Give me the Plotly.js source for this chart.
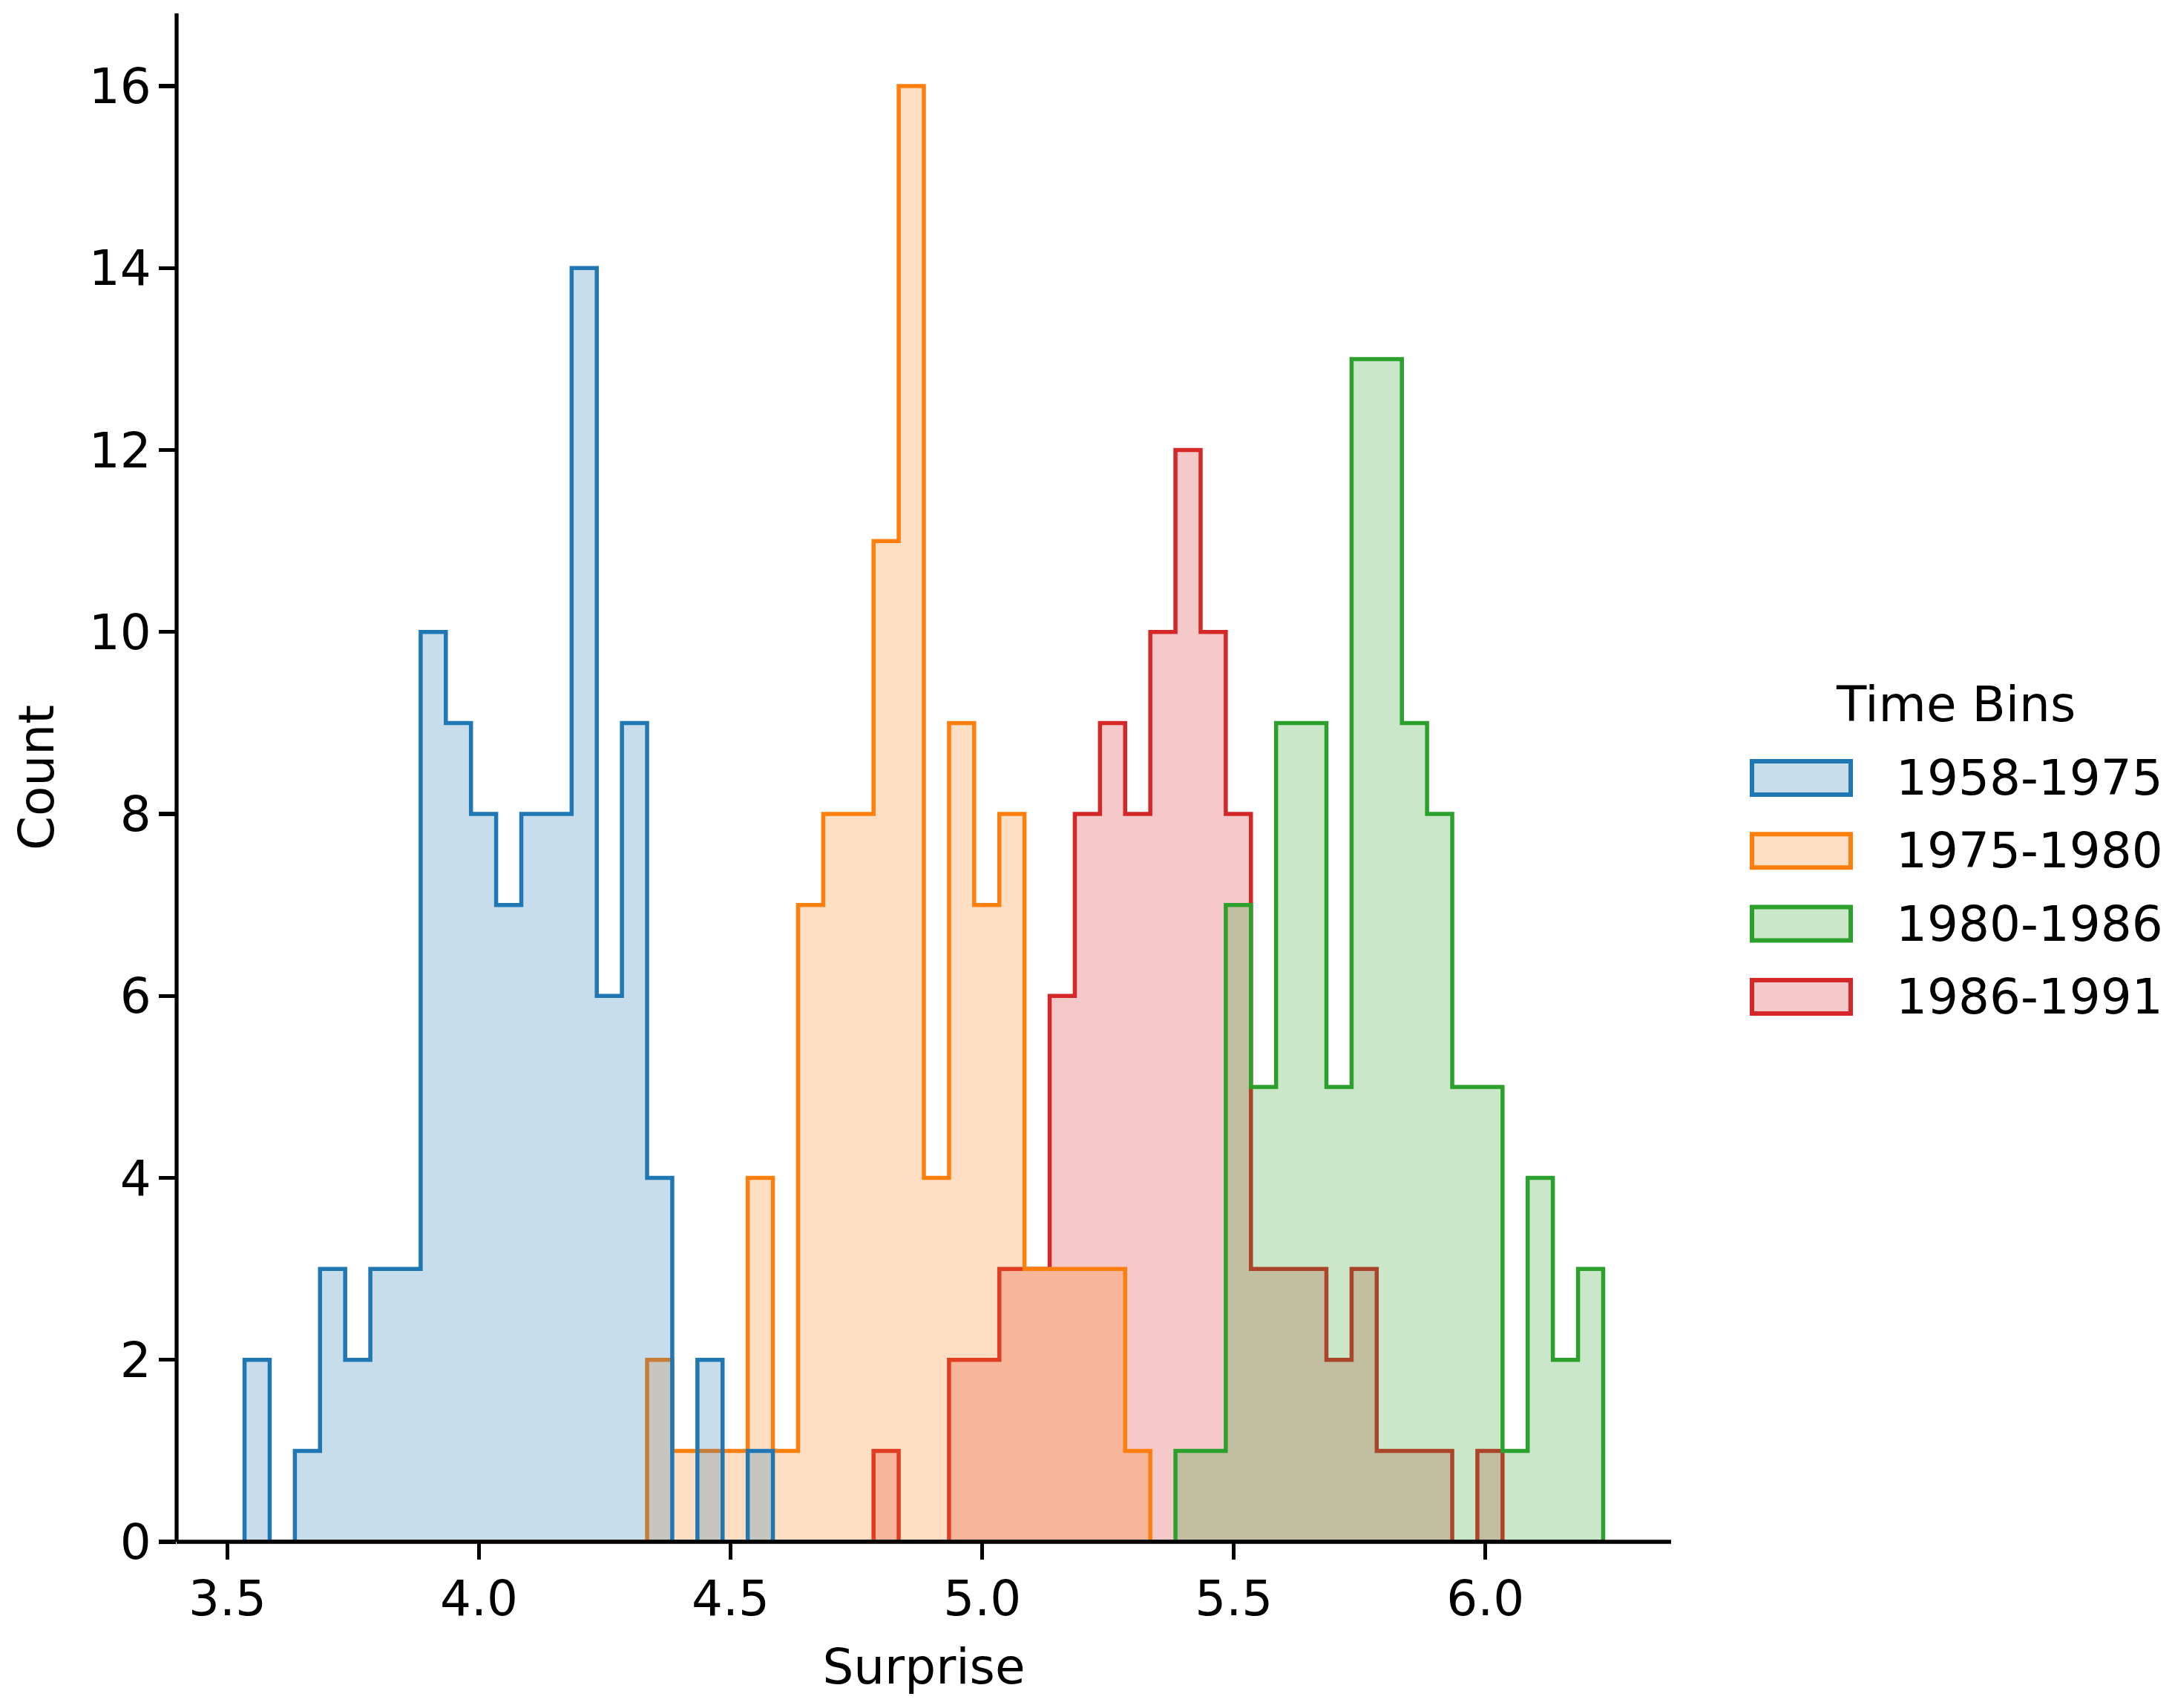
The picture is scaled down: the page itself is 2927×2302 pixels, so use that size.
<!DOCTYPE html>
<html>
<head>
<meta charset="utf-8">
<script src="https://cdn.plot.ly/plotly-3.0.1.min.js"></script>
<style>html,body{margin:0;padding:0;background:#fff;}</style>
</head>
<body>
<div id="chart" style="width:2927px;height:2302px;"></div>
<script>
// ---- data ----
const binStart = 3.534;
const binWidth = 0.05;
const binCount = 54;

const seriesNames = ["1958-1975", "1975-1980", "1980-1986", "1986-1991"];
const seriesColors = ["#1f77b4", "#ff7f0e", "#2ca02c", "#d62728"];
const seriesFills = ["rgba(31,119,180,0.25)", "rgba(255,127,14,0.25)", "rgba(44,160,44,0.25)", "rgba(214,39,40,0.25)"];

// counts per bin (bins 0..53)
const counts1958_1975 = [2,0,1,3,2,3,3,10,9,8,7,8,8,14,6,9,4,0,2,0,1,
  0,0,0,0,0,0,0,0,0,0,0,0,0,0,0,0,0,0,0,0,0,0,0,0,0,0,0,0,0,0,0,0,0];
const counts1975_1980 = [0,0,0,0,0,0,0,0,0,0,0,0,0,0,0,0,
  2,1,1,1,4,1,7,8,8,11,16,4,9,7,8,3,3,3,3,1,
  0,0,0,0,0,0,0,0,0,0,0,0,0,0,0,0,0,0];
const counts1980_1986 = [0,0,0,0,0,0,0,0,0,0,0,0,0,0,0,0,0,0,0,0,0,0,0,0,0,0,0,0,0,0,0,0,0,0,0,0,0,
  1,1,7,5,9,9,5,13,13,9,8,5,5,1,4,2,3];
const counts1986_1991 = [0,0,0,0,0,0,0,0,0,0,0,0,0,0,0,0,0,0,0,0,0,0,0,0,0,
  1,0,0,2,2,3,3,6,8,9,8,10,12,10,8,3,3,3,2,3,1,1,1,0,1,
  0,0,0,0];

const seriesCounts = [counts1958_1975, counts1975_1980, counts1980_1986, counts1986_1991];

const xTickVals = [3.5, 4.0, 4.5, 5.0, 5.5, 6.0];
const xTickText = ["3.5", "4.0", "4.5", "5.0", "5.5", "6.0"];
const yTickVals = [0, 2, 4, 6, 8, 10, 12, 14, 16];
const yTickText = ["0", "2", "4", "6", "8", "10", "12", "14", "16"];

const legendTitle = "Time Bins";
const xTitle = "Surprise";
const yTitle = "Count";

// ---- build ----
const edges = [];
for (let k = 0; k <= binCount; k++) edges.push(+(binStart + k * binWidth).toFixed(4));

function stepTrace(i) {
  const c = seriesCounts[i];
  const x = [edges[0]], y = [0];
  for (let k = 0; k < c.length; k++) { x.push(edges[k]); y.push(c[k]); }
  x.push(edges[c.length]); y.push(c[c.length - 1]);
  x.push(edges[c.length]); y.push(0);
  return {
    type: "scatter", mode: "lines", x: x, y: y, name: seriesNames[i],
    line: {shape: "hv", color: seriesColors[i], width: 5.5},
    fill: "tozeroy", fillcolor: seriesFills[i],
    hoverinfo: "skip", showlegend: false
  };
}
// draw last hue first so the first hue sits on top
const traces = [3, 2, 1, 0].map(stepTrace);

const W = 2927, H = 2302;
const plotL = 238, plotR = 2252, plotT = 18, plotB = 2078;
const pw = plotR - plotL, ph = plotB - plotT;
const px2x = p => (p - plotL) / pw;
const px2y = p => (plotB - p) / ph;

const shapes = [
  {type: "line", xref: "paper", yref: "paper", x0: 0, x1: 1, y0: 0, y1: 0,
   line: {color: "black", width: 5.3}, layer: "above"},
  {type: "line", xref: "paper", yref: "paper", x0: 0, x1: 0, y0: 0, y1: 1,
   line: {color: "black", width: 5.3}, layer: "above"}
];
const annotations = [
  {xref: "paper", yref: "paper", x: px2x(2635), y: px2y(950), text: legendTitle,
   showarrow: false, xanchor: "center", yanchor: "middle",
   font: {family: "DejaVu Sans", size: 66, color: "black"}}
];
const rowTop0 = 1023, rowStep = 98.3;
for (let i = 0; i < seriesNames.length; i++) {
  const top = rowTop0 + i * rowStep;
  shapes.push({type: "rect", xref: "paper", yref: "paper",
    x0: px2x(2361), x1: px2x(2494), y0: px2y(top + 3), y1: px2y(top + 48),
    fillcolor: seriesFills[i], line: {color: seriesColors[i], width: 6}, layer: "above"});
  annotations.push({xref: "paper", yref: "paper", x: px2x(2553), y: px2y(top + 25.5),
    text: seriesNames[i], showarrow: false, xanchor: "left", yanchor: "middle",
    font: {family: "DejaVu Sans", size: 66, color: "black"}});
}

const layout = {
  width: W, height: H,
  margin: {l: plotL, r: W - plotR, t: plotT, b: H - plotB, pad: 0},
  paper_bgcolor: "white", plot_bgcolor: "white",
  showlegend: false,
  font: {family: "DejaVu Sans", size: 66, color: "black"},
  xaxis: {
    range: [3.399, 6.369], tickmode: "array", tickvals: xTickVals, ticktext: xTickText,
    ticks: "outside", ticklen: 23, tickwidth: 5.3, tickcolor: "black", ticklabelstandoff: -4,
    showline: false, showgrid: false, zeroline: false, automargin: false,
    tickfont: {family: "DejaVu Sans", size: 66, color: "black"},
    title: {text: xTitle, standoff: 30, font: {family: "DejaVu Sans", size: 66, color: "black"}}
  },
  yaxis: {
    range: [0, 16.8], tickmode: "array", tickvals: yTickVals, ticktext: yTickText,
    ticks: "outside", ticklen: 23, tickwidth: 5.3, tickcolor: "black", ticklabelstandoff: -3,
    showline: false, showgrid: false, zeroline: false, automargin: false,
    tickfont: {family: "DejaVu Sans", size: 66, color: "black"},
    title: {text: yTitle, standoff: 25, font: {family: "DejaVu Sans", size: 66, color: "black"}}
  },
  shapes: shapes,
  annotations: annotations
};

Plotly.newPlot("chart", traces, layout, {displayModeBar: false, staticPlot: true});
</script>
</body>
</html>
